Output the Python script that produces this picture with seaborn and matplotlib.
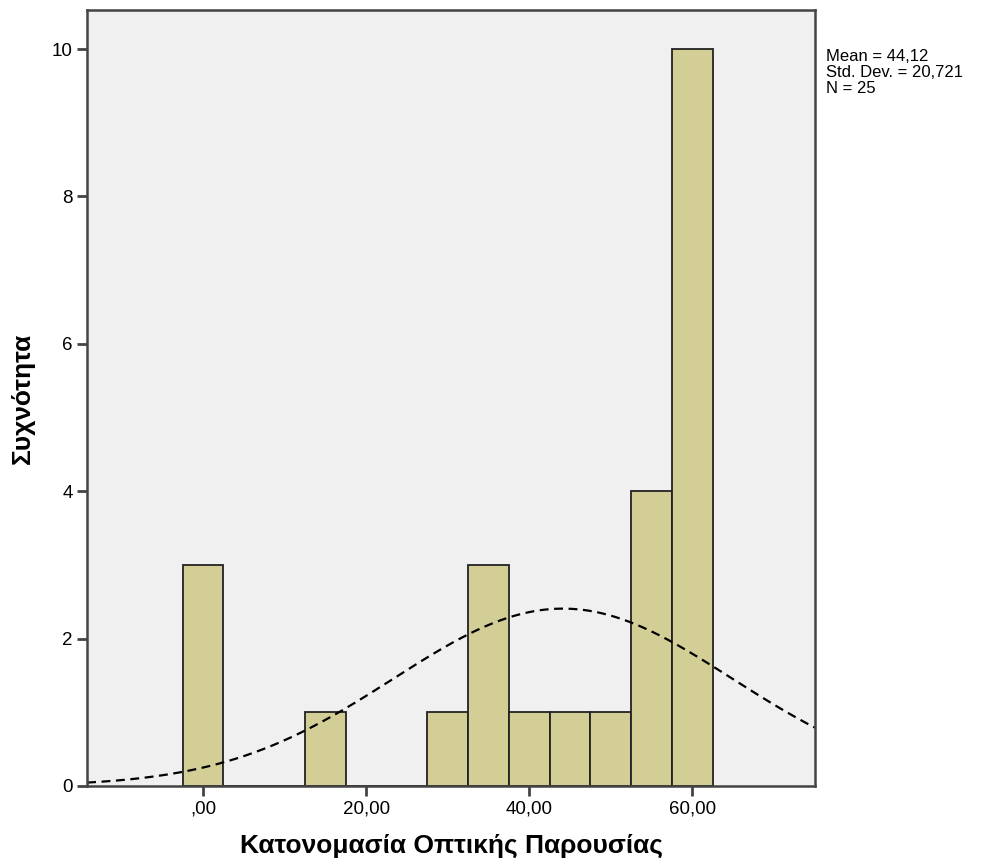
import numpy as np
import pandas as pd
import seaborn as sns
import matplotlib.pyplot as plt

# τιμές ιστογράμματος (κέντρα κλάσεων, πλάτος 5)
bin_centers = [0, 15, 30, 35, 40, 45, 50, 55, 60]
counts = [3, 1, 1, 3, 1, 1, 1, 4, 10]
x_ticks = [0, 20, 40, 60]
x_tick_labels = [",00", "20,00", "40,00", "60,00"]
y_ticks = [0, 2, 4, 6, 8, 10]

mean_val = 44.12
std_val = 20.721
n_val = 25
bin_width = 5

df = pd.DataFrame({"value": bin_centers, "count": counts})

sns.set_style("ticks")
plt.rcParams['font.family'] = ['Liberation Sans', 'DejaVu Sans']
plt.rcParams['text.color'] = 'black'
plt.rcParams['axes.labelcolor'] = 'black'
plt.rcParams['xtick.labelcolor'] = 'black'
plt.rcParams['ytick.labelcolor'] = 'black'

fig = plt.figure(figsize=(9.9, 8.68), dpi=100)
ax = fig.add_axes([0.088, 0.0945, 0.735, 0.894])
ax.set_facecolor("#F0F0F0")

sns.histplot(data=df, x="value", weights="count", binwidth=bin_width,
             binrange=(-2.5, 62.5), color="#D3CE96", alpha=1,
             edgecolor="#222222", linewidth=1.3, ax=ax)

# κανονική καμπύλη
xs = np.linspace(-14.2, 75, 400)
ys = n_val * bin_width * np.exp(-0.5 * ((xs - mean_val) / std_val) ** 2) / (std_val * np.sqrt(2 * np.pi))
sns.lineplot(x=xs, y=ys, color="black", linewidth=1.6, linestyle=(0, (4, 2.5)), ax=ax)

ax.set_xlim(-14.2, 75)
ax.set_ylim(0, 10.53)
ax.set_xticks(x_ticks)
ax.set_xticklabels(x_tick_labels)
ax.set_yticks(y_ticks)
ax.tick_params(axis="both", labelsize=13.5, length=7, width=2, color="#444444")
for s in ax.spines.values():
    s.set_linewidth(1.8)
    s.set_color("#444444")

ax.set_xlabel("Κατονομασία Οπτικής Παρουσίας", fontsize=19, fontweight="bold", labelpad=12)
ax.set_ylabel("Συχνότητα", fontsize=19, fontweight="bold", labelpad=12)

fig.text(0.834, 0.944, "Mean = 44,12\nStd. Dev. = 20,721\nN = 25",
         fontsize=12, va="top", ha="left", linespacing=1.1)

fig.savefig("out.png", dpi=100)
